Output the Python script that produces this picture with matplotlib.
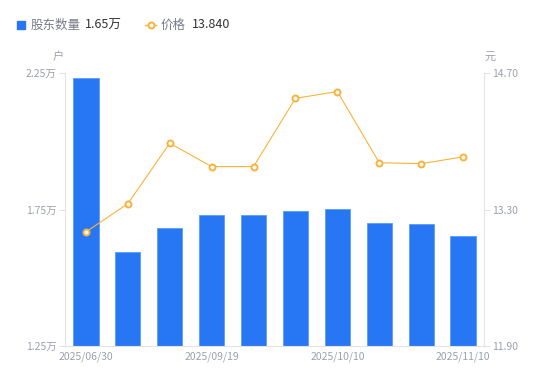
import matplotlib
matplotlib.use("Agg")
import matplotlib.pyplot as plt
from matplotlib.lines import Line2D
from matplotlib.patches import Rectangle

plt.rcParams['font.family'] = ['Noto Sans CJK SC', 'DejaVu Sans']

# data
dates = ['2025/06/30', '2025/07/31', '2025/08/29', '2025/09/19', '2025/09/26',
         '2025/09/30', '2025/10/10', '2025/10/20', '2025/10/31', '2025/11/10']
holders = [2.23, 1.594, 1.682, 1.73, 1.73, 1.745, 1.752, 1.70, 1.697, 1.653]  # 万户
price = [13.07, 13.36, 13.98, 13.74, 13.74, 14.44, 14.51, 13.78, 13.77, 13.84]  # 元
left_ticks = [1.25, 1.75, 2.25]
right_ticks = [11.90, 13.30, 14.70]

blue = '#2777F4'
orange = '#F9B33A'
tick_col = '#9CA0AD'
axis_col = '#E3E3E3'

fig = plt.figure(figsize=(5.5, 3.81), dpi=100)
ax = fig.add_axes([65 / 550, 35 / 381, 419 / 550, 273 / 381])
ax2 = ax.twinx()

x = list(range(len(dates)))
ax.bar(x, [h - 1.25 for h in holders], bottom=1.25, width=0.6, color=blue,
       edgecolor='#5B9BF8', linewidth=0.6, zorder=2)
ax.set_xlim(-0.5, len(dates) - 0.5)
ax.set_ylim(1.25, 2.25)
ax.set_yticks(left_ticks)
ax.set_yticklabels([f'{t:.2f}万' for t in left_ticks])
ax.set_xticks(x[::3])
ax.set_xticklabels(dates[::3])

ax2.plot(x, price, color=orange, linewidth=0.8, marker='o', markersize=4.3,
         markerfacecolor='white', markeredgecolor=orange, markeredgewidth=1.4, zorder=3)
ax2.set_ylim(11.90, 14.70)
ax2.set_yticks(right_ticks)
ax2.set_yticklabels([f'{t:.2f}' for t in right_ticks])

for a in (ax, ax2):
    for s in a.spines.values():
        s.set_visible(False)
    a.tick_params(colors=tick_col, labelsize=7.5, length=4, width=0.8, pad=2)
    a.tick_params(axis='y', color=axis_col)
ax.tick_params(axis='x', length=0, pad=4)
ax.spines['left'].set_visible(True)
ax.spines['left'].set_color(axis_col)
ax.spines['bottom'].set_visible(True)
ax.spines['bottom'].set_color(axis_col)
ax2.spines['right'].set_visible(True)
ax2.spines['right'].set_color(axis_col)

# unit labels
fig.text(58 / 550, 1 - 57 / 381, '户', color=tick_col, fontsize=8, ha='center', va='center')
fig.text(490 / 550, 1 - 57 / 381, '元', color=tick_col, fontsize=8, ha='center', va='center')

# custom legend row
fig.patches.append(Rectangle((17 / 550, 1 - 29 / 381), 8 / 550, 8 / 381,
                             transform=fig.transFigure, color=blue, figure=fig))
fig.text(31 / 550, 1 - 25 / 381, '股东数量', color='#777C8A', fontsize=9, va='center')
fig.text(85 / 550, 1 - 25 / 381, f'{holders[-1]:.2f}万', color='#333333', fontsize=9, va='center')
ly = 1 - 25 / 381
fig.lines.append(Line2D([145 / 550, 150.5 / 550, 156 / 550], [ly, ly, ly],
                        transform=fig.transFigure, color=orange, linewidth=1, marker='o',
                        markersize=4.3, markevery=[1], markerfacecolor='white',
                        markeredgewidth=1.4, figure=fig))
fig.text(161 / 550, 1 - 25 / 381, '价格', color='#777C8A', fontsize=9, va='center')
fig.text(192 / 550, 1 - 25 / 381, f'{price[-1]:.3f}', color='#333333', fontsize=9, va='center')

fig.savefig('out.png', dpi=100)
